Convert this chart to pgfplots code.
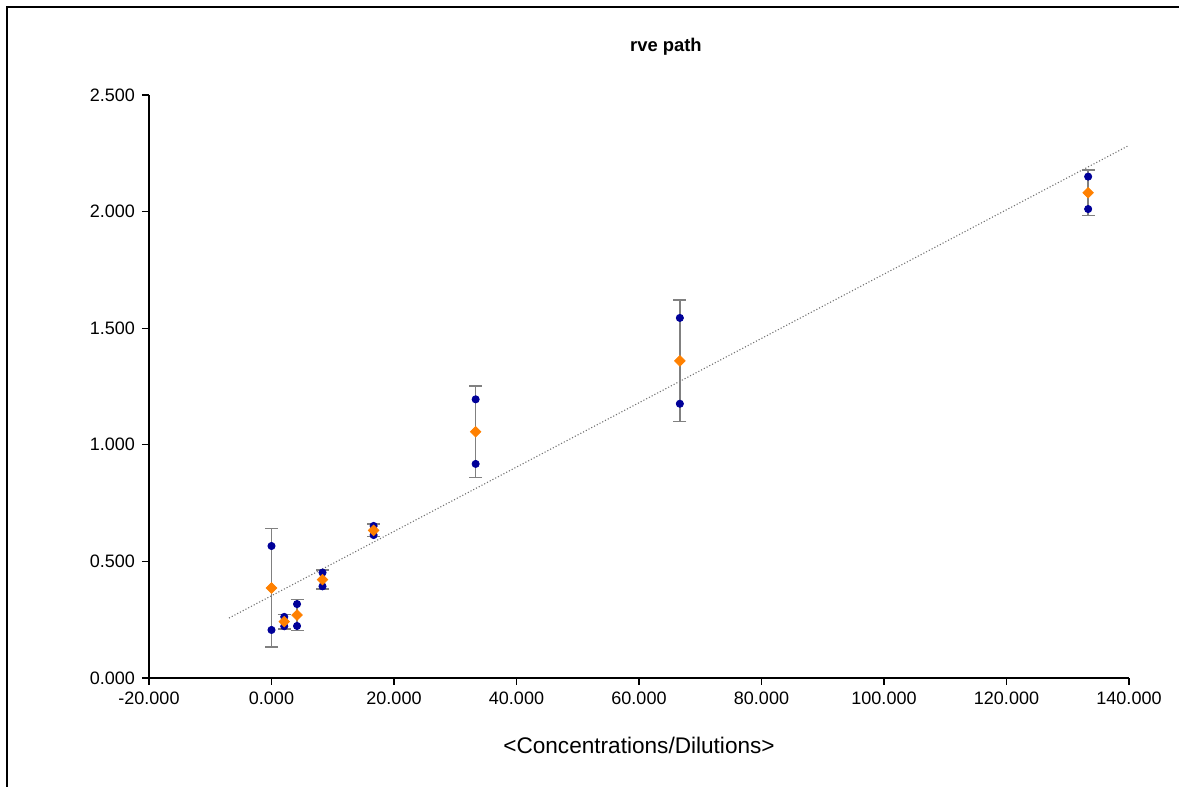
\documentclass[border=0pt]{standalone}
\usepackage{pgfplots}
\pgfplotsset{compat=1.18}
\usepackage{fontspec}
\setmainfont{Liberation Sans}
\definecolor{navy}{HTML}{000099}
\definecolor{orng}{HTML}{FF8000}
\definecolor{bar}{HTML}{808080}

\begin{document}
\begin{tikzpicture}
\useasboundingbox (0,0) rectangle (589.5pt,393.5pt);
\draw[line width=1.3pt] (3.5pt,-2pt) -- (3.5pt,390pt) -- (592pt,390pt);
\begin{axis}[at={(74.5pt,54.5pt)},anchor=south west,scale only axis,
  width=490pt,height=291.5pt,
  xmin=-20,xmax=140,ymin=0,ymax=2.5,
  xtick={-20,0,...,140},ytick={0,0.5,...,2.5},
  axis x line=bottom,axis y line=left,axis line style={-,line width=0.6pt},
  tick align=outside,major tick length=3.5pt,tick style={black,line width=0.6pt},
  /pgf/number format/assume math mode=true,
  /pgf/number format/.cd,fixed,fixed zerofill,precision=3,use period,1000 sep={},
  /pgfplots/.cd,
  tick label style={font=\fontsize{9}{10}\selectfont},
  xlabel={<Concentrations/Dilutions>},
  xlabel style={font=\fontsize{11.3}{13}\selectfont,yshift=-9.5pt},
  clip=false]
\addplot[black!55,densely dotted,line width=0.55pt] coordinates {(-6.94,0.257) (139.8,2.281)};
\addplot[draw=none,mark=none,error bars/.cd,y dir=both,y explicit,
  error bar style={color=bar,line width=0.75pt},
  error mark options={rotate=90,mark size=3.25pt,color=bar,line width=0.75pt}]
  coordinates {(0,0.386) +- (0,0.254) (2.08,0.242) +- (0,0.031) (4.17,0.270) +- (0,0.066)
  (8.33,0.422) +- (0,0.041) (16.67,0.633) +- (0,0.027) (33.33,1.056) +- (0,0.196)
  (66.67,1.360) +- (0,0.260) (133.33,2.081) +- (0,0.098)};
\addplot[only marks,mark=*,mark size=1.8pt,mark options={draw=navy,fill=navy}]
  coordinates {(0,0.566) (2.08,0.262) (4.17,0.317) (8.33,0.452) (16.67,0.652) (33.33,1.195) (66.67,1.544) (133.33,2.150)};
\addplot[only marks,mark=*,mark size=1.8pt,mark options={draw=navy,fill=navy}]
  coordinates {(0,0.206) (2.08,0.222) (4.17,0.223) (8.33,0.393) (16.67,0.613) (33.33,0.918) (66.67,1.176) (133.33,2.011)};
\addplot[only marks,mark=square*,mark size=1.85pt,mark options={draw=orng,fill=orng,rotate=45}]
  coordinates {(0,0.386) (2.08,0.242) (4.17,0.270) (8.33,0.422) (16.67,0.633) (33.33,1.056) (66.67,1.360) (133.33,2.081)};
\node[font=\bfseries\fontsize{9.2}{10}\selectfont] at (axis cs:64.4,2.5) [yshift=24pt] {rve path};
\end{axis}
\end{tikzpicture}
\end{document}
